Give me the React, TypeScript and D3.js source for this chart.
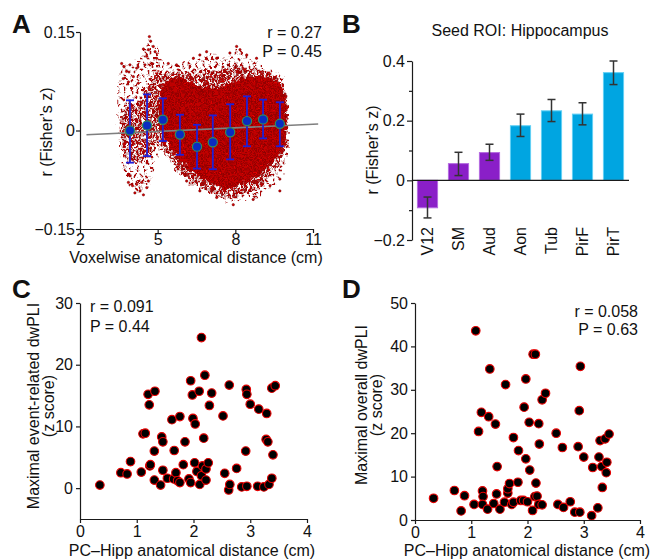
import { useEffect, useRef } from 'react'
import * as d3 from 'd3'

const FONT = '"Liberation Sans", Arial, Helvetica, sans-serif'

// ---- panel A : voxelwise correlation vs distance
const binX = [3.93, 4.59, 5.2, 5.86, 6.52, 7.13, 7.8, 8.45, 9.07, 9.72]
const binMean = [0, 0.0077, 0.0164, -0.0061, -0.0246, -0.018, -0.0026, 0.0143, 0.0169, 0.0102]
const binHi = [0.046, 0.055, 0.049, 0.024, 0.0087, 0.023, 0.04, 0.052, 0.047, 0.043]
const binLo = [-0.049, -0.039, -0.016, -0.037, -0.058, -0.059, -0.044, -0.024, -0.012, -0.024]
const fitX = [2.25, 11.2]
const fitY = [-0.0065, 0.01]
// outline of the voxel cloud: sparse edge, medium band, dense core
const cloudOuter = [[3.48, 0.06], [3.6, 0.1], [4.0, 0.1], [4.4, 0.12], [4.65, 0.14], [4.95, 0.125], [5.2, 0.105], [5.6, 0.1], [6.1, 0.105], [6.6, 0.112], [7.1, 0.118], [7.6, 0.112], [8.05, 0.125], [8.45, 0.112], [8.8, 0.105], [9.2, 0.093], [9.6, 0.088], [9.9, 0.075], [10.05, 0.03], [10.05, -0.03], [9.85, -0.07], [9.45, -0.085], [8.95, -0.1], [8.4, -0.107], [7.9, -0.11], [7.4, -0.105], [6.9, -0.095], [6.4, -0.085], [5.9, -0.07], [5.5, -0.05], [5.1, -0.03], [4.85, -0.05], [4.65, -0.085], [4.35, -0.095], [3.95, -0.085], [3.72, -0.065], [3.52, -0.03]]
const cloudMid = [[3.65, 0.03], [3.9, 0.04], [4.3, 0.045], [4.7, 0.07], [4.95, 0.09], [5.3, 0.088], [5.9, 0.09], [6.4, 0.086], [6.9, 0.09], [7.4, 0.092], [7.9, 0.1], [8.4, 0.096], [8.9, 0.094], [9.4, 0.086], [9.8, 0.076], [10.0, 0.05], [10.02, 0.0], [9.92, -0.03], [9.65, -0.055], [9.2, -0.075], [8.7, -0.09], [8.2, -0.098], [7.7, -0.104], [7.2, -0.098], [6.7, -0.088], [6.2, -0.075], [5.7, -0.055], [5.3, -0.035], [5.0, -0.012], [4.85, -0.03], [4.6, -0.045], [4.2, -0.05], [3.85, -0.045], [3.65, -0.025], [3.58, 0.0]]
const cloudCore = [[5.1, 0.06], [5.4, 0.078], [5.86, 0.08], [6.38, 0.072], [6.89, 0.066], [7.41, 0.064], [7.92, 0.074], [8.44, 0.082], [8.95, 0.082], [9.47, 0.078], [9.8, 0.066], [9.95, 0.04], [9.95, -0.012], [9.7, -0.036], [9.21, -0.056], [8.69, -0.072], [8.18, -0.082], [7.66, -0.09], [7.15, -0.082], [6.63, -0.07], [6.12, -0.054], [5.6, -0.034], [5.25, -0.01], [5.05, 0.025]]
const strayVoxels = [[3.61, 0.102], [3.7, 0.097], [3.8, 0.09], [3.93, 0.1], [4.06, 0.082], [4.19, 0.095], [3.87, 0.074], [3.67, 0.079], [4.25, 0.072], [4.0, 0.064], [4.68, 0.143], [4.73, 0.136], [4.83, 0.128], [4.64, 0.123], [4.9, 0.12], [4.45, 0.124], [4.58, 0.113], [4.96, 0.11], [4.77, 0.102], [4.51, 0.1], [3.87, -0.079], [4.03, -0.084], [4.19, -0.082], [4.32, -0.092], [4.45, -0.098], [4.58, -0.087], [4.38, -0.079], [4.12, -0.095], [4.64, -0.077], [3.93, -0.069], [9.72, -0.092], [9.34, -0.084], [8.69, -0.105], [7.92, -0.113], [7.28, -0.102], [6.63, -0.092], [6.12, -0.077], [8.05, 0.128], [8.18, 0.123], [7.79, 0.118], [8.44, 0.115], [8.82, 0.11], [6.89, 0.12], [6.63, 0.115], [6.38, 0.11], [9.72, -0.074], [5.73, 0.1], [5.41, 0.102], [7.28, 0.11]]

// ---- panel B : seed ROI hippocampus
const roi = ['V12', 'SM', 'Aud', 'Aon', 'Tub', 'PirF', 'PirT']
const roiMean = [-0.092, 0.056, 0.093, 0.183, 0.233, 0.222, 0.361]
const roiHi = [-0.056, 0.094, 0.121, 0.222, 0.271, 0.26, 0.4]
const roiLo = [-0.126, 0.016, 0.067, 0.147, 0.197, 0.186, 0.321]
const roiGroup = ['ctl', 'ctl', 'ctl', 'olf', 'olf', 'olf', 'olf']

// ---- panel C / D : per-contact dwPLI vs PC-Hipp distance
const eventPts = [[0.35, 0.5], [0.72, 2.5], [0.83, 2.3], [0.89, 4.3], [1.08, 2.6], [1.11, 8.8], [1.15, 8.9], [1.2, 15.2], [1.22, 13.5], [1.23, 3.6], [1.24, 3.8], [1.32, 15.7], [1.31, 6.0], [1.31, 1.3], [1.42, 0.5], [1.44, 8.3], [1.46, 7.5], [1.46, 2.9], [1.54, 1.6], [1.62, 11.1], [1.65, 1.5], [1.66, 6.1], [1.69, 2.5], [1.72, 1.2], [1.76, 11.6], [1.76, 0.9], [1.82, 3.8], [1.85, 7.5], [1.92, 1.5], [1.95, 0.9], [1.95, 17.4], [1.98, 15.1], [1.99, 11.3], [2.02, 4.1], [2.03, 10.4], [2.06, 2.7], [2.1, 15.7], [2.11, 0.6], [2.14, 24.4], [2.14, 2.0], [2.16, 3.6], [2.18, 8.1], [2.2, 18.3], [2.22, 1.3], [2.22, 3.1], [2.26, 4.1], [2.28, 13.4], [2.32, 15.4], [2.52, 11.7], [2.55, 2.4], [2.62, -0.3], [2.63, 16.7], [2.64, 0.6], [2.76, 3.2], [2.85, 0.2], [2.92, 6.0], [2.93, 16.0], [2.94, 15.2], [2.94, 0.3], [3.0, 13.6], [3.13, 0.3], [3.15, 12.8], [3.24, 0.2], [3.28, 7.9], [3.29, 12.1], [3.31, 7.5], [3.33, 0.6], [3.38, 16.2], [3.38, 1.6], [3.4, 5.4], [3.44, 16.6]]
const overallPts = [[0.33, 5.0], [0.7, 6.8], [0.82, 2.1], [0.88, 5.6], [1.05, 3.6], [1.08, 43.6], [1.13, 20.4], [1.18, 24.8], [1.2, 6.7], [1.21, 5.4], [1.2, 3.6], [1.29, 2.5], [1.31, 23.8], [1.33, 34.8], [1.4, 3.8], [1.45, 6.0], [1.43, 22.1], [1.46, 12.3], [1.51, 2.5], [1.59, 4.1], [1.61, 31.2], [1.65, 6.2], [1.65, 7.2], [1.68, 8.4], [1.72, 3.6], [1.75, 4.1], [1.75, 19.0], [1.84, 16.0], [1.83, 8.7], [1.88, 4.5], [1.93, 4.5], [1.94, 26.0], [1.97, 32.5], [1.97, 14.1], [2.0, 4.2], [2.03, 22.5], [2.04, 11.5], [2.09, 2.2], [2.1, 38.2], [2.14, 38.2], [2.13, 5.4], [2.15, 8.5], [2.17, 5.5], [2.2, 22.2], [2.21, 17.5], [2.2, 3.6], [2.26, 3.5], [2.26, 27.7], [2.32, 29.2], [2.51, 20.0], [2.54, 3.6], [2.62, 16.7], [2.64, 2.9], [2.76, 4.2], [2.84, 1.8], [2.9, 16.9], [2.93, 1.8], [2.92, 25.2], [2.94, 35.4], [3.0, 14.5], [3.14, 1.0], [3.16, 12.1], [3.25, 2.8], [3.27, 14.5], [3.29, 18.3], [3.32, 12.3], [3.33, 7.5], [3.38, 18.7], [3.4, 10.9], [3.41, 13.3], [3.45, 19.8]]

export default function App() {
  const ref = useRef<SVGSVGElement>(null)
  useEffect(() => {
    if (!ref.current) return
    const svg = d3.select(ref.current)
    svg.selectAll('*').remove()
    svg.attr('font-family', FONT)

    const styleAxis = (g: any) => {
      g.attr('font-size', 16).attr('font-family', FONT)
      g.selectAll('path,line').attr('stroke', '#1a1a1a').attr('stroke-width', 1.2)
      g.selectAll('text').attr('fill', '#111')
    }
    const label = (x: number, y: number, txt: string, opts: any = {}) => {
      const t = svg.append('text').attr('x', x).attr('y', y).text(txt)
        .attr('font-size', opts.size || 16).attr('fill', '#111')
        .attr('text-anchor', opts.anchor || 'start')
      if (opts.bold) t.attr('font-weight', 'bold')
      if (opts.rot) t.attr('transform', `rotate(-90,${x},${y})`)
      return t
    }
    const intFmt = d3.format('d')

    // patterns + ragged edge filter for the voxel cloud
    const defs = svg.append('defs')
    const dot = (p: any, x: number, y: number, fill: string, stroke: string, r = 1.15) =>
      p.append('circle').attr('cx', x).attr('cy', y).attr('r', r).attr('fill', fill).attr('stroke', stroke).attr('stroke-width', 0.5)
    const sparse = defs.append('pattern').attr('id', 'sparse').attr('patternUnits', 'userSpaceOnUse').attr('width', 13).attr('height', 13)
    ;[[2, 2], [8, 1], [5, 7], [11, 6], [1, 11], [8, 11]].forEach(([x, y]) => dot(sparse, x, y, '#d40000', '#6a0000'))
    const mid = defs.append('pattern').attr('id', 'mid').attr('patternUnits', 'userSpaceOnUse').attr('width', 8).attr('height', 8)
    ;[[1, 1], [5, 1.5], [3, 4.5], [7, 5], [1, 7], [5, 7.3]].forEach(([x, y]) => dot(mid, x, y, '#d80000', '#5a0000', 1.2))
    const dense = defs.append('pattern').attr('id', 'dense').attr('patternUnits', 'userSpaceOnUse').attr('width', 7).attr('height', 7)
    dense.append('rect').attr('width', 7).attr('height', 7).attr('fill', '#c20000')
    ;[[1, 1], [4.5, 2], [2.5, 4.5], [6, 5.5]].forEach(([x, y]) => dot(dense, x, y, '#e00000', '#4a0000', 1.1))
    const filt = defs.append('filter').attr('id', 'ragged').attr('x', '-10%').attr('y', '-10%').attr('width', '120%').attr('height', '120%')
    filt.append('feTurbulence').attr('type', 'fractalNoise').attr('baseFrequency', 0.18).attr('numOctaves', 2).attr('seed', 3).attr('result', 'n')
    filt.append('feDisplacementMap').attr('in', 'SourceGraphic').attr('in2', 'n').attr('scale', 8).attr('xChannelSelector', 'R').attr('yChannelSelector', 'G')

    // ================= A
    const ax = d3.scaleLinear().domain([2, 11]).range([80, 313])
    const ay = d3.scaleLinear().domain([-0.15, 0.15]).range([229, 32])
    const poly = d3.line<number[]>().x(d => ax(d[0])).y(d => ay(d[1])).curve(d3.curveCardinalClosed.tension(0.5))
    const cloud = svg.append('g').attr('filter', 'url(#ragged)')
    cloud.append('path').attr('d', poly(cloudOuter)).attr('fill', 'url(#sparse)')
    cloud.append('path').attr('d', poly(cloudMid)).attr('fill', 'url(#mid)')
    cloud.append('path').attr('d', poly(cloudCore)).attr('fill', 'url(#dense)')
    svg.append('g').selectAll('circle').data(strayVoxels).join('circle')
      .attr('cx', d => ax(d[0])).attr('cy', d => ay(d[1])).attr('r', 1.2)
      .attr('fill', '#d40000').attr('stroke', '#6a0000').attr('stroke-width', 0.5)

    svg.append('line').attr('x1', ax(fitX[0])).attr('y1', ay(fitY[0])).attr('x2', ax(fitX[1])).attr('y2', ay(fitY[1]))
      .attr('stroke', '#7f7f7f').attr('stroke-width', 1.6)

    const eb = svg.append('g').attr('stroke', '#1f1fd6').attr('stroke-width', 1.8)
    binX.forEach((x, i) => {
      const cx = ax(x)
      eb.append('line').attr('x1', cx).attr('x2', cx).attr('y1', ay(binHi[i])).attr('y2', ay(binLo[i]))
      eb.append('line').attr('x1', cx - 4).attr('x2', cx + 4).attr('y1', ay(binHi[i])).attr('y2', ay(binHi[i]))
      eb.append('line').attr('x1', cx - 4).attr('x2', cx + 4).attr('y1', ay(binLo[i])).attr('y2', ay(binLo[i]))
    })
    svg.append('g').selectAll('circle').data(binX).join('circle')
      .attr('cx', d => ax(d)).attr('cy', (_, i) => ay(binMean[i])).attr('r', 4.6)
      .attr('fill', '#0a2cc0').attr('stroke', '#2f8f5a').attr('stroke-width', 1.2)

    svg.append('g').attr('transform', 'translate(80,0)')
      .call(d3.axisLeft(ay).tickValues([-0.15, 0, 0.15]).tickSize(4).tickPadding(1).tickSizeOuter(0)
        .tickFormat((d: any) => d === 0 ? '0' : d3.format('.2f')(d)))
      .call(styleAxis)
    svg.append('g').attr('transform', 'translate(0,229)')
      .call(d3.axisBottom(ax).tickValues([2, 5, 8, 11]).tickSize(4).tickPadding(1).tickSizeOuter(0).tickFormat(intFmt as any))
      .call(styleAxis)
    label(52, 132, 'r (Fisher\u2019s z)', { rot: true, anchor: 'middle' })
    label(196, 263, 'Voxelwise anatomical distance (cm)', { anchor: 'middle' })
    label(322, 38, 'r = 0.27', { anchor: 'end' })
    label(322, 57, 'P = 0.45', { anchor: 'end' })
    label(12, 33, 'A', { bold: true, size: 26 })

    // ================= B
    const bx = d3.scaleBand().domain(roi).range([412, 629]).paddingInner(0.35).paddingOuter(0.175)
    const by = d3.scaleLinear().domain([-0.2, 0.4]).range([240, 61])
    svg.append('g').selectAll('rect').data(roi).join('rect')
      .attr('x', d => bx(d)!).attr('width', bx.bandwidth())
      .attr('y', (_, i) => by(Math.max(0, roiMean[i]))).attr('height', (_, i) => Math.abs(by(roiMean[i]) - by(0)))
      .attr('fill', (_, i) => roiGroup[i] === 'ctl' ? '#8a1fc8' : '#00a5e1')
      .attr('stroke', (_, i) => roiGroup[i] === 'ctl' ? '#b46ae0' : '#62d0f5').attr('stroke-width', 1)
    const beb = svg.append('g').attr('stroke', '#333').attr('stroke-width', 1.5)
    roi.forEach((r, i) => {
      const cx = bx(r)! + bx.bandwidth() / 2
      beb.append('line').attr('x1', cx).attr('x2', cx).attr('y1', by(roiHi[i])).attr('y2', by(roiLo[i]))
      beb.append('line').attr('x1', cx - 4).attr('x2', cx + 4).attr('y1', by(roiHi[i])).attr('y2', by(roiHi[i]))
      beb.append('line').attr('x1', cx - 4).attr('x2', cx + 4).attr('y1', by(roiLo[i])).attr('y2', by(roiLo[i]))
    })
    svg.append('g').attr('transform', 'translate(412,0)')
      .call(d3.axisLeft(by).tickValues([-0.1, 0.1, 0.3]).tickSize(3).tickFormat(() => '').tickSizeOuter(0))
      .call(styleAxis).select('.domain').remove()
    svg.append('g').attr('transform', 'translate(412,0)')
      .call(d3.axisLeft(by).tickValues([-0.2, 0, 0.2, 0.4]).tickSize(5).tickPadding(2).tickSizeOuter(0)
        .tickFormat((d: any) => d === 0 ? '0' : d3.format('.1f')(d)))
      .call(styleAxis)
    svg.append('line').attr('x1', 412).attr('x2', 629).attr('y1', by(0)).attr('y2', by(0))
      .attr('stroke', '#1a1a1a').attr('stroke-width', 1.2)
    roi.forEach(r => {
      const cx = bx(r)! + bx.bandwidth() / 2
      label(cx, 227, r, { rot: true, anchor: 'end' }).attr('dominant-baseline', 'central')
    })
    label(378, 150, 'r (Fisher\u2019s z)', { rot: true, anchor: 'middle' })
    label(520, 36, 'Seed ROI: Hippocampus', { anchor: 'middle' })
    label(342, 33, 'B', { bold: true, size: 26 })

    // ================= C & D
    const scatter = (pts: number[][], sx: any, sy: any) =>
      svg.append('g').selectAll('circle').data(pts).join('circle')
        .attr('cx', d => sx(d[0])).attr('cy', d => sy(d[1])).attr('r', 4.3)
        .attr('fill', '#000').attr('stroke', '#e60000').attr('stroke-width', 1.1)

    const cx = d3.scaleLinear().domain([0, 4]).range([80, 307])
    const cy = d3.scaleLinear().domain([-5, 30]).range([519, 303])
    scatter(eventPts, cx, cy)
    svg.append('g').attr('transform', 'translate(80,0)')
      .call(d3.axisLeft(cy).tickValues([0, 10, 20, 30]).tickSize(4).tickPadding(3).tickSizeOuter(0).tickFormat(intFmt as any))
      .call(styleAxis)
    svg.append('g').attr('transform', 'translate(0,519)')
      .call(d3.axisBottom(cx).tickValues([0, 1, 2, 3, 4]).tickSize(4).tickPadding(3).tickSizeOuter(0).tickFormat(intFmt as any))
      .call(styleAxis)
    label(39, 406, 'Maximal event-related dwPLI', { rot: true, anchor: 'middle' })
    label(54, 406, '(z score)', { rot: true, anchor: 'middle' })
    label(192, 556, 'PC\u2013Hipp anatomical distance (cm)', { anchor: 'middle' })
    label(90, 312, 'r = 0.091')
    label(90, 332, 'P = 0.44')
    label(12, 298, 'C', { bold: true, size: 26 })

    const dx = d3.scaleLinear().domain([0, 4]).range([415, 640])
    const dy = d3.scaleLinear().domain([0, 50]).range([520, 303])
    scatter(overallPts, dx, dy)
    svg.append('g').attr('transform', 'translate(415,0)')
      .call(d3.axisLeft(dy).tickValues([0, 10, 20, 30, 40, 50]).tickSize(4).tickPadding(3).tickSizeOuter(0).tickFormat(intFmt as any))
      .call(styleAxis)
    svg.append('g').attr('transform', 'translate(0,520)')
      .call(d3.axisBottom(dx).tickValues([0, 1, 2, 3, 4]).tickSize(4).tickPadding(3).tickSizeOuter(0).tickFormat(intFmt as any))
      .call(styleAxis)
    label(367, 405, 'Maximal overall dwPLI', { rot: true, anchor: 'middle' })
    label(382, 405, '(z score)', { rot: true, anchor: 'middle' })
    label(527, 556, 'PC\u2013Hipp anatomical distance (cm)', { anchor: 'middle' })
    label(638, 317, 'r = 0.058', { anchor: 'end' })
    label(638, 335, 'P = 0.63', { anchor: 'end' })
    label(342, 298, 'D', { bold: true, size: 26 })
  }, [])
  return <svg ref={ref} width={653} height={559} style={{ position: 'absolute', left: 0, top: 0, background: '#fff' }} />
}
